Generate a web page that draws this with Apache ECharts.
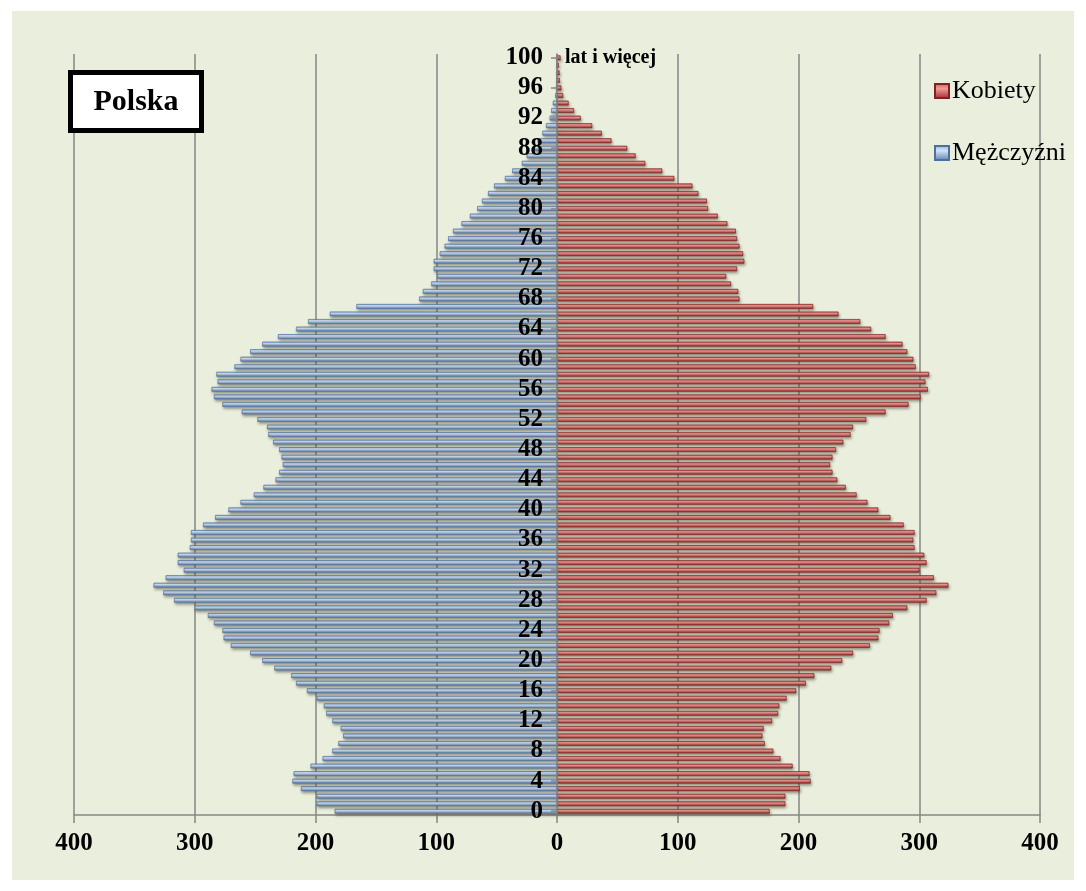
<!DOCTYPE html>
<html>
<head>
<meta charset="utf-8">
<script src="https://cdn.jsdelivr.net/npm/echarts@6/dist/echarts.min.js"></script>
<style>
  html, body { margin: 0; padding: 0; background: #ffffff; }
  #main { position: absolute; left: 12px; top: 11px; width: 1062px; height: 869px; }
</style>
</head>
<body>
<div id="main"></div>
<script>
// wiek 0..100
const ages = []
for (let a = 0; a <= 100; a++) ages.push(String(a))

// tys. osób
const men = [184, 199, 199, 212, 219, 218, 204, 194, 186, 181,
  177, 179, 186, 191, 193, 199, 207, 216, 220, 234,
  244, 254, 270, 276, 277, 284, 289, 300, 317, 326,
  334, 324, 309, 314, 314, 304, 303, 303, 293, 283,
  272, 262, 251, 243, 233, 230, 227, 228, 230, 235,
  239, 240, 248, 261, 277, 284, 286, 281, 282, 267,
  262, 254, 244, 231, 216, 206, 188, 166, 114, 111,
  104, 99, 102, 102, 97, 93, 90, 86, 79, 72,
  66, 62, 57, 52, 43, 37, 29, 25, 20, 16,
  12, 9, 6, 4.7, 3.3, 1.4, 0.8, 0.5, 0.3, 0.2, 0.3]

const women = [176, 189, 189, 201, 210, 209, 195, 185, 179, 172,
  170, 171, 178, 183, 184, 190, 198, 206, 213, 227,
  236, 245, 259, 266, 267, 275, 278, 290, 306, 314,
  324, 312, 300, 306, 304, 296, 295, 296, 287, 276,
  266, 257, 248, 239, 232, 228, 226, 228, 231, 237,
  243, 245, 256, 272, 291, 301, 307, 305, 308, 297,
  295, 290, 286, 272, 260, 251, 233, 212, 151, 150,
  144, 140, 149, 155, 154, 151, 149, 148, 141, 133,
  125, 124, 117, 112, 97, 87, 73, 65, 58, 45,
  37, 29, 19.5, 14, 9.5, 5, 3.5, 2.2, 2, 1.4, 2.8]

const xTicks = [-400, -300, -200, -100, 0, 100, 200, 300, 400]

const serif = "'Liberation Serif', 'Times New Roman', serif"

const gridLeft = 62
const gridWidth = 966

const blueFill = new echarts.graphic.LinearGradient(0, 0, 0, 1, [
  {offset: 0, color: '#8fafdc'},
  {offset: 0.35, color: '#d3e3f7'},
  {offset: 1, color: '#5c7db0'}
])
const redFill = new echarts.graphic.LinearGradient(0, 0, 0, 1, [
  {offset: 0, color: '#d45a58'},
  {offset: 0.35, color: '#f09a98'},
  {offset: 1, color: '#9c2b2a'}
])

const chart = echarts.init(document.getElementById('main'))

const option = {
  backgroundColor: '#eaeedd',
  animation: false,
  grid: {left: gridLeft, top: 43, width: gridWidth, height: 761},
  legend: {
    orient: 'vertical',
    left: 922,
    top: 67,
    padding: 0,
    itemWidth: 14,
    itemHeight: 14,
    itemGap: 36,
    icon: 'rect',
    data: ['Kobiety', 'Mężczyźni'],
    textStyle: {fontFamily: serif, fontSize: 26, color: '#000', padding: [0, 0, 0, -2]}
  },
  xAxis: {
    type: 'value',
    min: xTicks[0],
    max: xTicks[xTicks.length - 1],
    interval: 100,
    axisLine: {show: true, lineStyle: {color: '#868686', width: 1.5}},
    axisTick: {show: true, length: 8, lineStyle: {color: '#868686', width: 1.5}},
    axisLabel: {
      margin: 16,
      fontFamily: serif,
      fontWeight: 'bold',
      fontSize: 25,
      color: '#000',
      formatter: v => String(Math.abs(v))
    },
    splitLine: {show: true, lineStyle: {color: '#868686', width: 1.5}}
  },
  yAxis: {
    type: 'category',
    data: ages,
    position: 'left',
    z: 5,
    // oś kategorii przesunięta na zero osi wartości
    offset: -gridWidth / 2,
    axisLine: {show: true, onZero: false, lineStyle: {color: '#868686', width: 1.5}},
    axisTick: {show: true, interval: 3, length: 6, alignWithLabel: true, lineStyle: {color: '#868686', width: 1.5}},
    axisLabel: {
      interval: 3,
      margin: 14,
      fontFamily: serif,
      fontWeight: 'bold',
      fontSize: 25,
      color: '#000'
    },
    splitLine: {show: false}
  },
  series: [
    {
      name: 'Kobiety',
      type: 'bar',
      data: women,
      barWidth: 4.5,
      barGap: '-100%',
      itemStyle: {
        color: redFill,
        borderColor: '#7e2222',
        borderWidth: 0.4,
        shadowColor: 'rgba(70,70,50,0.55)',
        shadowBlur: 3,
        shadowOffsetX: 1,
        shadowOffsetY: 2
      }
    },
    {
      name: 'Mężczyźni',
      type: 'bar',
      data: men.map(v => -v),
      barWidth: 4.5,
      barGap: '-100%',
      itemStyle: {
        color: blueFill,
        borderColor: '#4f6f9f',
        borderWidth: 0.4,
        shadowColor: 'rgba(70,70,50,0.55)',
        shadowBlur: 3,
        shadowOffsetX: 1,
        shadowOffsetY: 2
      }
    }
  ]
}

chart.setOption(option)

// opis "lat i więcej" przy kategorii 100 i ramka "Polska"
const topPt = chart.convertToPixel({gridIndex: 0}, [0, '100'])
chart.setOption({
  graphic: [
    {
      type: 'text',
      left: topPt[0] + 8,
      top: topPt[1] - 10,
      style: {
        text: 'lat i więcej',
        font: 'bold 20px ' + serif,
        fill: '#000'
      },
      z: 10
    },
    {
      type: 'group',
      left: 56,
      top: 59,
      z: 10,
      children: [
        {
          type: 'rect',
          shape: {x: 0, y: 0, width: 131, height: 58},
          style: {fill: '#ffffff', stroke: '#000000', lineWidth: 5}
        },
        {
          type: 'text',
          x: 65.5,
          y: 29.5,
          style: {
            text: 'Polska',
            font: 'bold 30px ' + serif,
            fill: '#000',
            align: 'center',
            verticalAlign: 'middle'
          }
        }
      ]
    }
  ]
})
</script>
</body>
</html>
